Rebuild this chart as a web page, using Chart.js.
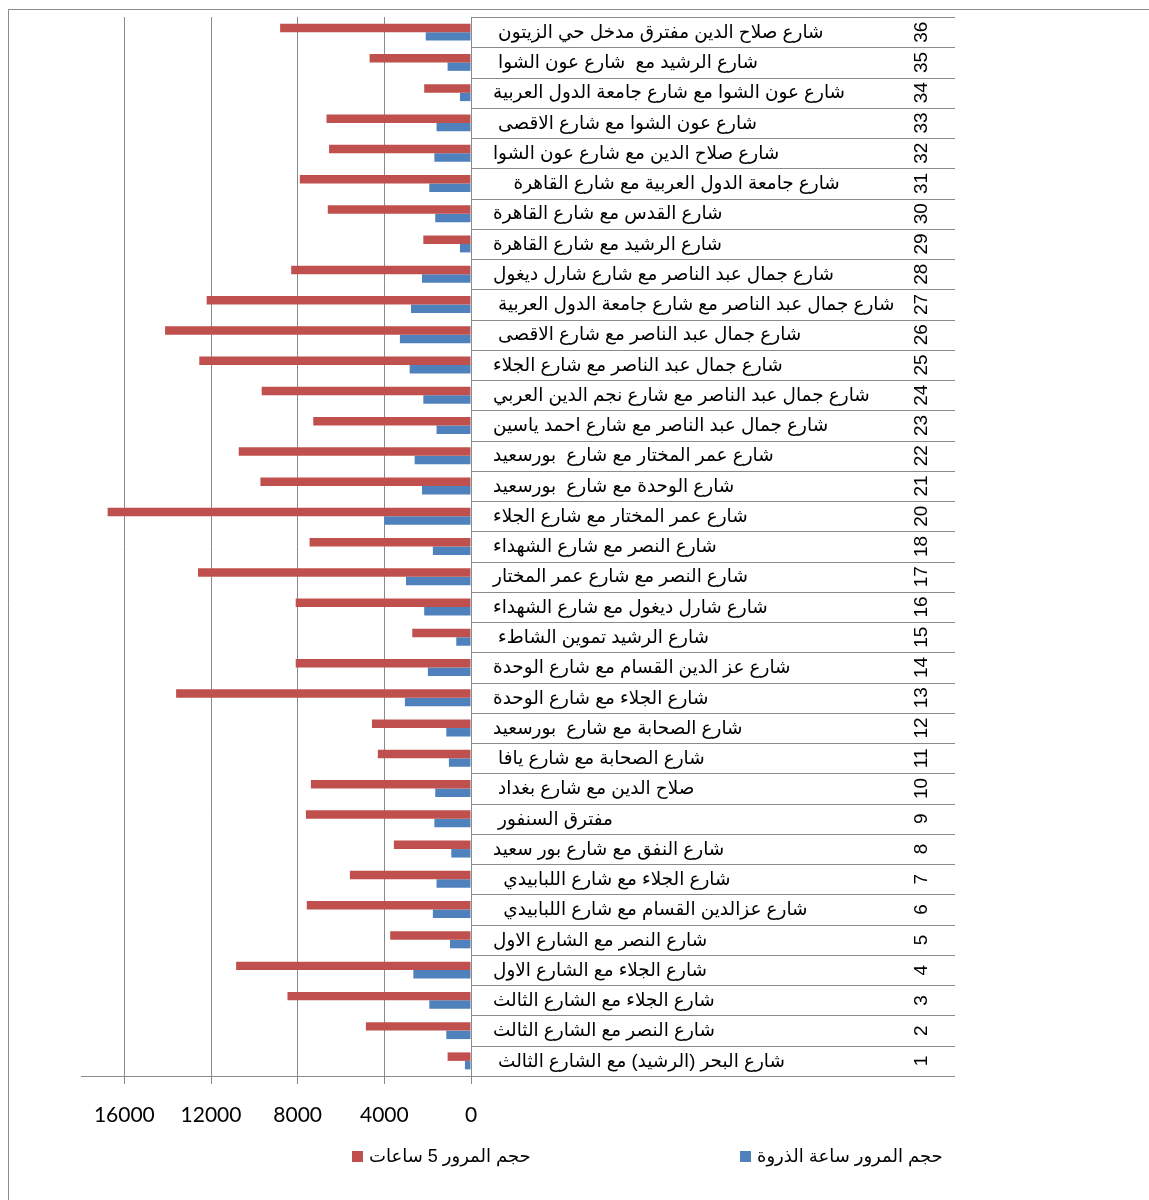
<!DOCTYPE html>
<html><head><meta charset="utf-8">
<script src="https://cdn.jsdelivr.net/npm/chart.js@4.4.0/dist/chart.umd.min.js"></script>
<style>html,body{margin:0;padding:0;background:#fff;} #wrap{width:1149px;height:1200px;position:relative;}</style>
</head><body><div id="wrap"><canvas id="c" width="1149" height="1200"></canvas></div>
<script>
// ---- data ----
const categories = ['1','2','3','4','5','6','7','8','9','10','11','12','13','14','15','16','17','18',
  '20','21','22','23','24','25','26','27','28','29','30','31','32','33','34','35','36'];
const streetNames = [
  'شارع البحر (الرشيد) مع الشارع الثالث ',
  'شارع النصر مع الشارع الثالث',
  'شارع الجلاء مع الشارع الثالث',
  'شارع الجلاء مع الشارع الاول',
  'شارع النصر مع الشارع الاول',
  'شارع عزالدين القسام مع شارع اللبابيدي  ',
  'شارع الجلاء مع شارع اللبابيدي  ',
  'شارع النفق مع شارع بور سعيد',
  'مفترق السنفور ',
  'صلاح الدين مع شارع بغداد ',
  'شارع الصحابة مع شارع يافا ',
  'شارع الصحابة مع شارع  بورسعيد',
  'شارع الجلاء مع شارع الوحدة',
  'شارع عز الدين القسام مع شارع الوحدة',
  'شارع الرشيد تموين الشاطء ',
  'شارع شارل ديغول مع شارع الشهداء',
  'شارع النصر مع شارع عمر المختار',
  'شارع النصر مع شارع الشهداء',
  'شارع عمر المختار مع شارع الجلاء',
  'شارع الوحدة مع شارع  بورسعيد',
  'شارع عمر المختار مع شارع  بورسعيد',
  'شارع جمال عبد الناصر مع شارع احمد ياسين',
  'شارع جمال عبد الناصر مع شارع نجم الدين العربي',
  'شارع جمال عبد الناصر مع شارع الجلاء',
  'شارع جمال عبد الناصر مع شارع الاقصى ',
  'شارع جمال عبد الناصر مع شارع جامعة الدول العربية ',
  'شارع جمال عبد الناصر مع شارع شارل ديغول',
  'شارع الرشيد مع شارع القاهرة',
  'شارع القدس مع شارع القاهرة',
  'شارع جامعة الدول العربية مع شارع القاهرة    ',
  'شارع صلاح الدين مع شارع عون الشوا',
  'شارع عون الشوا مع شارع الاقصى ',
  'شارع عون الشوا مع شارع جامعة الدول العربية',
  'شارع الرشيد مع  شارع عون الشوا ',
  'شارع صلاح الدين مفترق مدخل حي الزيتون '
];
const fiveHourVolume = [1080,4850,8470,10840,3730,7580,5590,3560,7620,7390,4300,4570,13610,8090,2710,8090,12600,7450,
  16770,9720,10720,7280,9660,12540,14120,12200,8300,2200,6610,7900,6550,6670,2160,4680,8810];
const peakHourVolume = [280,1140,1925,2660,970,1760,1590,910,1690,1650,1020,1140,3050,1990,680,2160,3000,1760,
  4000,2260,2600,1590,2200,2830,3280,2770,2260,510,1650,1925,1690,1590,510,1080,2090];
const seriesNames = ['حجم المرور 5 ساعات', 'حجم المرور ساعة الذروة'];
const xTickValues = [0, 4000, 8000, 12000, 16000];
const xMax = 18000;

// ---- drawing ----
const GRID = '#8a8a8a';
const COLORS = ['#C0504D', '#4F81BD'];
const TABLE_RIGHT = 955;
const ARABIC_FONT = '19px "Liberation Sans", "DejaVu Sans", sans-serif';

function drawScaledText(ctx, text, x, y, sx) {
  ctx.save();
  ctx.translate(x, y);
  ctx.scale(sx, 1);
  ctx.fillText(text, 0, 0);
  ctx.restore();
}

const tablePlugin = {
  id: 'table',
  afterDraw(chart) {
    const {ctx, chartArea, scales} = chart;
    const ys = scales.y;
    const x0 = Math.round(chartArea.right);
    const n = categories.length;
    const step = Math.abs(ys.getPixelForValue(1) - ys.getPixelForValue(0));
    ctx.save();
    ctx.strokeStyle = GRID;
    ctx.lineWidth = 1;
    ctx.beginPath();
    for (let i = 0; i < n; i++) {
      const yc = ys.getPixelForValue(i);
      const yb = Math.round(yc - step / 2) + 0.5;
      ctx.moveTo(x0, yb); ctx.lineTo(TABLE_RIGHT, yb);
      if (i === 0) {
        const yb2 = Math.round(yc + step / 2) + 0.5;
        ctx.moveTo(x0, yb2); ctx.lineTo(TABLE_RIGHT, yb2);
      }
    }
    // outer frame (left and top edges)
    ctx.moveTo(8.5, 1200); ctx.lineTo(8.5, 9.5); ctx.lineTo(1149, 9.5);
    ctx.stroke();

    ctx.fillStyle = '#000';
    ctx.textBaseline = 'middle';
    categories.forEach((c, i) => {
      const yc = ys.getPixelForValue(i);
      ctx.font = ARABIC_FONT;
      ctx.direction = 'rtl';
      ctx.textAlign = 'left';
      drawScaledText(ctx, streetNames[i], 493, yc + 0.5, 0.97);
      ctx.save();
      ctx.translate(921, yc);
      ctx.rotate(-Math.PI / 2);
      ctx.direction = 'ltr';
      ctx.textAlign = 'center';
      ctx.font = '19px "Liberation Sans", Arial, sans-serif';
      ctx.fillText(c, 0, 1);
      ctx.restore();
    });

    // legend
    const legendY = 1157;
    const legendX = [352, 740];
    chart.data.datasets.forEach((ds, i) => {
      ctx.fillStyle = ds.backgroundColor;
      ctx.fillRect(legendX[i], legendY - 6, 11, 11);
      ctx.fillStyle = '#000';
      ctx.font = '18px "Liberation Sans", "DejaVu Sans", sans-serif';
      ctx.direction = 'rtl';
      ctx.textAlign = 'left';
      drawScaledText(ctx, ds.label, legendX[i] + 17, legendY, 1.0);
    });
    ctx.restore();
  }
};

new Chart(document.getElementById('c'), {
  type: 'bar',
  data: {
    labels: categories,
    datasets: [
      {label: seriesNames[0], data: fiveHourVolume, backgroundColor: COLORS[0], borderWidth: 0,
       categoryPercentage: 0.56, barPercentage: 1.0},
      {label: seriesNames[1], data: peakHourVolume, backgroundColor: COLORS[1], borderWidth: 0,
       categoryPercentage: 0.56, barPercentage: 1.0}
    ]
  },
  options: {
    indexAxis: 'y',
    responsive: false,
    animation: false,
    devicePixelRatio: 1,
    layout: {padding: {left: 81, right: 678, top: 17, bottom: 0}},
    plugins: {legend: {display: false}, tooltip: {enabled: false}},
    scales: {
      x: {
        reverse: true, min: 0, max: xMax,
        afterBuildTicks(s) { s.ticks = xTickValues.map(v => ({value: v})); },
        afterFit(s) { s.height = 124; },
        grid: {color: GRID, lineWidth: 1, tickLength: 8, drawTicks: true},
        border: {color: GRID},
        ticks: {font: {family: 'Lato', size: 21}, color: '#000', padding: 19, maxRotation: 0,
                callback: (v) => String(v)}
      },
      y: {reverse: true, display: false}
    }
  },
  plugins: [tablePlugin]
});
</script></body></html>
